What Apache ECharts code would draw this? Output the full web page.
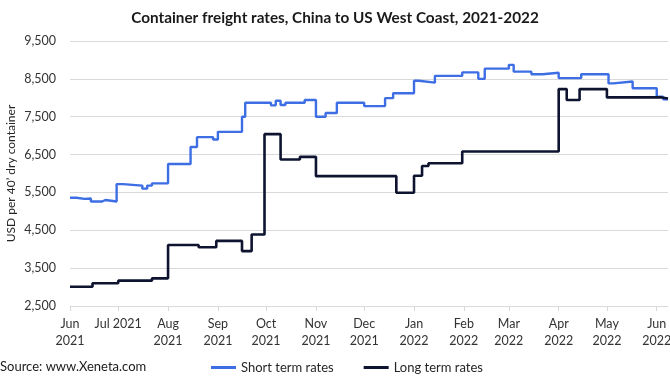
<!DOCTYPE html>
<html>
<head>
<meta charset="utf-8">
<script src="https://cdn.jsdelivr.net/npm/echarts@6/dist/echarts.min.js"></script>
<style>
html,body{margin:0;padding:0;background:#fff;}
#chart{width:670px;height:380px;}
</style>
</head>
<body>
<div id="chart"></div>
<script>
// Short term rates: change points (date, USD)
const shortDates = ['2021-06-01','2021-06-05','2021-06-10','2021-06-14','2021-06-21','2021-06-23','2021-06-30','2021-07-04','2021-07-16','2021-07-19','2021-07-22','2021-08-01','2021-08-15','2021-08-19','2021-08-29','2021-09-01','2021-09-16','2021-09-18','2021-10-04','2021-10-07','2021-10-10','2021-10-13','2021-10-25','2021-11-01','2021-11-07','2021-11-14','2021-12-01','2021-12-14','2021-12-19','2022-01-01','2022-01-04','2022-01-14','2022-01-31','2022-02-10','2022-02-14','2022-03-01','2022-03-04','2022-03-15','2022-03-22','2022-04-01','2022-04-15','2022-05-02','2022-05-05','2022-05-17','2022-06-01','2022-06-05','2022-06-08'];
const shortValues = [5360,5330,5340,5260,5300,5260,5720,5680,5600,5680,5740,6250,6700,6960,6900,7100,7500,7870,7800,7920,7810,7870,7940,7500,7600,7870,7780,7990,8120,8450,8400,8580,8670,8500,8770,8870,8690,8620,8660,8520,8620,8380,8430,8250,8030,7960,7960];

// Long term rates: change points (date, USD)
const longDates = ['2021-06-01','2021-06-15','2021-07-01','2021-07-22','2021-08-01','2021-08-20','2021-08-31','2021-09-16','2021-09-22','2021-09-30','2021-10-10','2021-10-22','2021-11-01','2021-12-21','2022-01-01','2022-01-06','2022-01-10','2022-01-31','2022-04-01','2022-04-06','2022-04-14','2022-05-01','2022-06-04','2022-06-08'];
const longValues = [3010,3100,3170,3230,4110,4050,4220,3950,4390,7040,6370,6440,5930,5490,5940,6200,6270,6580,8230,7940,8230,8010,7980,7980];

const monthNames = ['Jan','Feb','Mar','Apr','May','Jun','Jul','Aug','Sep','Oct','Nov','Dec'];
const yTicks = [2500,3500,4500,5500,6500,7500,8500,9500];
const seriesNames = ['Short term rates','Long term rates'];

function toTime(s){ const p = s.split('-').map(Number); return new Date(p[0], p[1]-1, p[2]).getTime(); }
function pairs(d, v){ return d.map((x,i)=>[toTime(x), v[i]]); }

const chart = echarts.init(document.getElementById('chart'), null, {renderer:'canvas'});
const DAY = 86400000;
chart.setOption({
  animation:false,
  backgroundColor:'#ffffff',
  title:{
    text:'Container freight rates, China to US West Coast, 2021-2022',
    left:'center', top:6,
    textStyle:{fontFamily:'Lato', fontWeight:'bold', fontSize:15.3, color:'#1a1a1a'}
  },
  grid:{left:70, right:2, top:41, bottom:74, containLabel:false, outerBoundsMode:'none'},
  legend:{
    data:seriesNames,
    left:206, top:356,
    icon:'rect', itemWidth:25, itemHeight:3, itemGap:30,
    textStyle:{fontFamily:'Lato', fontSize:13, color:'#262626'}
  },
  graphic:[{
    type:'text', left:0, top:360,
    style:{text:'Source: www.Xeneta.com', fontFamily:'Lato', fontSize:13, fill:'#1a1a1a'}
  }],
  xAxis:{
    type:'time',
    min:toTime('2021-06-01'), max:toTime('2022-06-08'),
    minInterval:28*DAY, maxInterval:31*DAY,
    splitLine:{show:false},
    axisLine:{lineStyle:{color:'#d9d9d9'}},
    axisTick:{show:true, length:5, lineStyle:{color:'#d9d9d9'}},
    axisLabel:{
      fontFamily:'Lato', fontSize:12.5, color:'#333333', lineHeight:17, margin:9,
      hideOverlap:false, showMaxLabel:false,
      formatter:function(v){
        const d = new Date(v);
        if (d.getDate() !== 1) return '';
        const m = monthNames[d.getMonth()], y = d.getFullYear();
        if (d.getMonth()===6 && y===2021) return m+' '+y;
        return m+'\n'+y;
      }
    }
  },
  yAxis:{
    type:'value', min:yTicks[0], max:yTicks[yTicks.length-1], interval:1000,
    name:'USD per 40\u2019 dry container', nameLocation:'middle', nameGap:53, nameMoveOverlap:false,
    nameTextStyle:{fontFamily:'Lato', fontSize:12, color:'#262626'},
    axisLine:{show:false}, axisTick:{show:false},
    splitLine:{lineStyle:{color:'#d9d9d9'}},
    axisLabel:{fontFamily:'Lato', fontSize:12.5, color:'#333333', margin:14,
      formatter:function(v){ return v.toLocaleString('en-US'); }}
  },
  series:[
    {name:seriesNames[0], type:'line', step:'end', showSymbol:false, data:pairs(shortDates, shortValues),
     lineStyle:{color:'#3d6ee4', width:2.4}, itemStyle:{color:'#3d6ee4'}},
    {name:seriesNames[1], type:'line', step:'end', showSymbol:false, data:pairs(longDates, longValues),
     lineStyle:{color:'#0e1430', width:2.6}, itemStyle:{color:'#0e1430'}}
  ]
});
</script>
</body>
</html>
